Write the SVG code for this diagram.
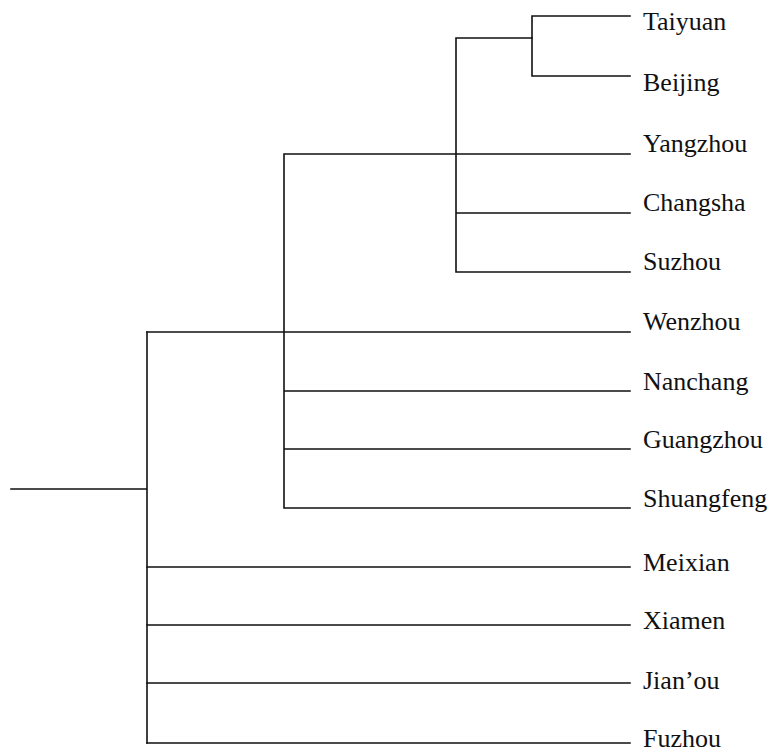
<svg xmlns="http://www.w3.org/2000/svg" width="771" height="752" viewBox="0 0 771 752">
<style>
.e{fill:none;stroke:#111;stroke-width:1.6;stroke-linecap:square}
.t{font-family:"Liberation Serif","Times New Roman",serif;font-size:26px;fill:#111}
</style>
<rect width="771" height="752" fill="#fff"/>
<g id="connectors">
<path class="e" d="M11,489 H147 M147,332 V743"/>
<path class="e" d="M147,332 H630"/>
<path class="e" d="M147,567 H630 M147,625 H630 M147,683 H630 M147,743 H630"/>
<path class="e" d="M284,154 V508 M284,154 H630 M284,391 H630 M284,449 H630 M284,508 H630"/>
<path class="e" d="M456,38 V272 M456,38 H532 M456,213 H630 M456,272 H630"/>
<path class="e" d="M532,16 V76 M532,16 H630 M532,76 H630"/>
</g>
<g id="n-taiyuan"><text class="t" x="643" y="30">Taiyuan</text></g>
<g id="n-beijing"><text class="t" x="643" y="91">Beijing</text></g>
<g id="n-yangzhou"><text class="t" x="643" y="152">Yangzhou</text></g>
<g id="n-changsha"><text class="t" x="643" y="211">Changsha</text></g>
<g id="n-suzhou"><text class="t" x="643" y="270">Suzhou</text></g>
<g id="n-wenzhou"><text class="t" x="643" y="330">Wenzhou</text></g>
<g id="n-nanchang"><text class="t" x="643" y="390">Nanchang</text></g>
<g id="n-guangzhou"><text class="t" x="643" y="448">Guangzhou</text></g>
<g id="n-shuangfeng"><text class="t" x="643" y="507">Shuangfeng</text></g>
<g id="n-meixian"><text class="t" x="643" y="571">Meixian</text></g>
<g id="n-xiamen"><text class="t" x="643" y="629">Xiamen</text></g>
<g id="n-jianou"><text class="t" x="643" y="689">Jian’ou</text></g>
<g id="n-fuzhou"><text class="t" x="643" y="747">Fuzhou</text></g>
</svg>
